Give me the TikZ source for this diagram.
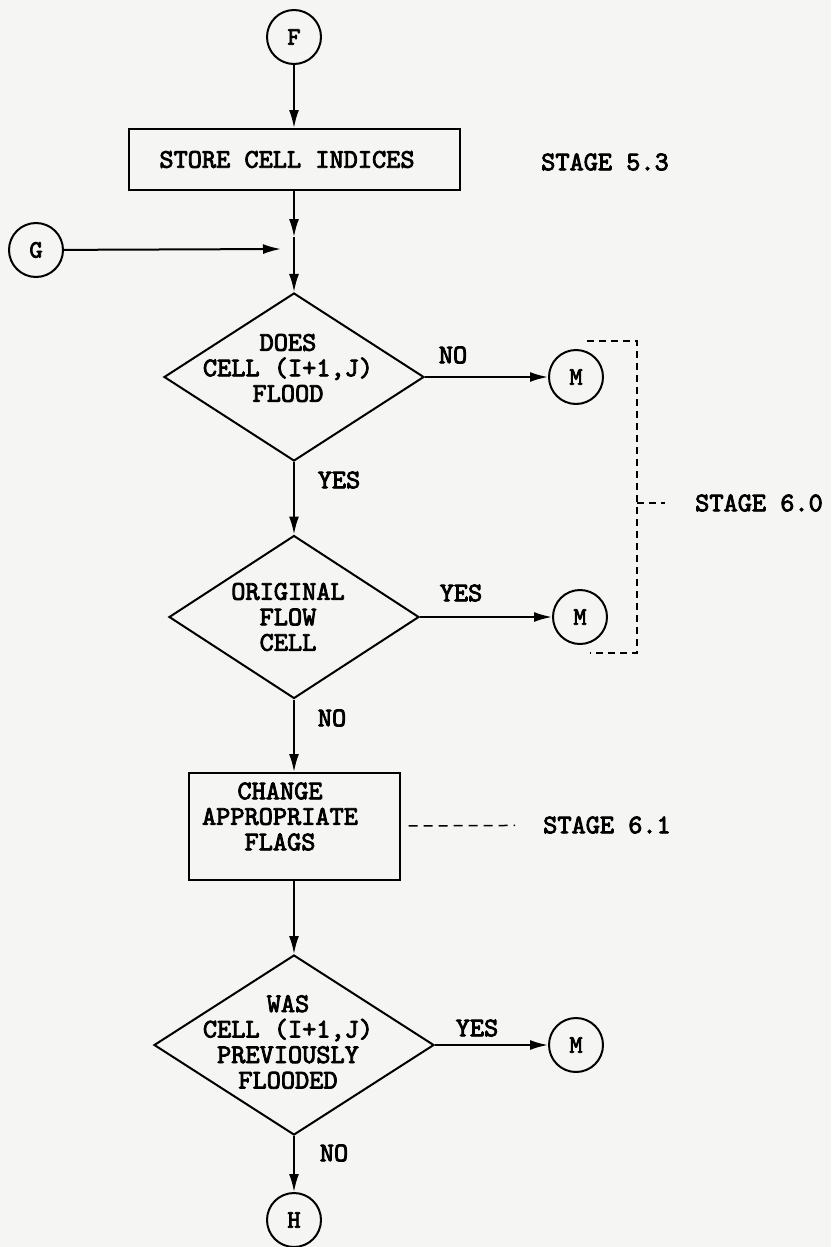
\documentclass[tikz,border=0pt]{standalone}
\usepackage{fontspec}
\newfontfamily\typew{lmmono10-regular.otf}[FakeBold=3]
\usetikzlibrary{shapes.geometric, arrows.meta}

\definecolor{paper}{RGB}{245,245,243}

\tikzset{
  txt/.style={font=\typew\fontsize{27pt}{25.5pt}\selectfont, inner sep=0pt, align=center},
  connector/.style={circle, draw, line width=2pt, minimum size=54pt, inner sep=0pt,
    font=\typew\fontsize{25pt}{25pt}\selectfont},
  procbox/.style={rectangle, draw, line width=2pt, inner sep=0pt},
  decision/.style={diamond, draw, line width=2pt, inner sep=0pt},
  flow/.style={-{Latex[length=18pt,width=10pt]}, line width=2pt},
  bracket/.style={line width=1.5pt, dash pattern=on 7pt off 5pt},
  stageline/.style={line width=1.5pt, dash pattern=on 9pt off 6pt},
}

\begin{document}
\begin{tikzpicture}[x=1pt, y=-1pt]
    % foglio
    \fill[paper] (0,0) rectangle (831,1247);
    \useasboundingbox (0,0) rectangle (831,1247);

    % connettori d'ingresso
    \node[connector] (F) at (294,37) {F};
    \node[connector] (G) at (36,250) {G};

    % stage 5.3
    \node[procbox, minimum width=331pt, minimum height=61pt,
      label={[txt, xshift=-7pt]center:{STORE CELL INDICES}}] (store) at (294,159.5) {};
    \node[txt] (stage53) at (605,162) {STAGE 5.3};
    \coordinate (join) at (294,249);

    % prima decisione
    \node[decision, minimum width=260pt, minimum height=168pt,
      label={[txt, xshift=-6pt, yshift=9pt]center:{DOES\\CELL (I+1,J)\\FLOOD}}] (d1) at (294,377) {};
    \node[connector] (M1) at (576,377) {M};
    \node[txt] (no1) at (453,355) {NO};
    \node[txt] (yes1) at (339,480) {YES};

    % seconda decisione
    \node[decision, minimum width=250pt, minimum height=163pt,
      label={[txt, xshift=-6pt]center:{ORIGINAL\\FLOW\\CELL}}] (d2) at (294,617) {};
    \node[connector] (M2) at (580,617) {M};
    \node[txt] (yes2) at (461,593) {YES};
    \node[txt] (no2) at (332,718) {NO};

    % stage 6.0
    \node[txt] (stage60) at (759,503) {STAGE 6.0};
    \draw[bracket] (587,341) -- (637,341) -- (637,653) -- (590,653);
    \coordinate (brmid) at (637,503);
    \draw[bracket, shorten >=30pt] (brmid) -- (stage60);

    % stage 6.1
    \node[procbox, minimum width=211pt, minimum height=107pt,
      label={[txt, xshift=-14pt, yshift=10pt]center:{CHANGE\\APPROPRIATE\\FLAGS}}] (chg) at (294,826.5) {};
    \node[txt] (stage61) at (607,825) {STAGE 6.1};
    \draw[stageline, shorten <=8pt, shorten >=28pt] (chg) -- (stage61);

    % terza decisione
    \node[decision, minimum width=280pt, minimum height=180pt,
      label={[txt, xshift=-6pt, yshift=3pt]center:{WAS\\CELL (I+1,J)\\PREVIOUSLY\\FLOODED}}] (d3) at (294,1045) {};
    \node[connector] (M3) at (576,1045) {M};
    \node[txt] (yes3) at (477,1028) {YES};
    \node[txt] (no3) at (334,1153) {NO};
    \node[connector] (H) at (294,1220) {H};

    % frecce
    \draw[flow] (F) -- (store);
    \draw[flow] (store) -- ([yshift=12pt]join);
    \draw[line width=2pt] ([yshift=12pt]join) -- (join);
    \draw[flow] (G) -- ([xshift=-13pt]join);
    \draw[flow] (join) -- (d1);
    \draw[flow] (d1) -- (M1);
    \draw[flow] (d1) -- (d2);
    \draw[flow] (d2) -- (M2);
    \draw[flow] (d2) -- (chg);
    \draw[flow] (chg) -- (d3);
    \draw[flow] (d3) -- (M3);
    \draw[flow] (d3) -- (H);
\end{tikzpicture}
\end{document}
